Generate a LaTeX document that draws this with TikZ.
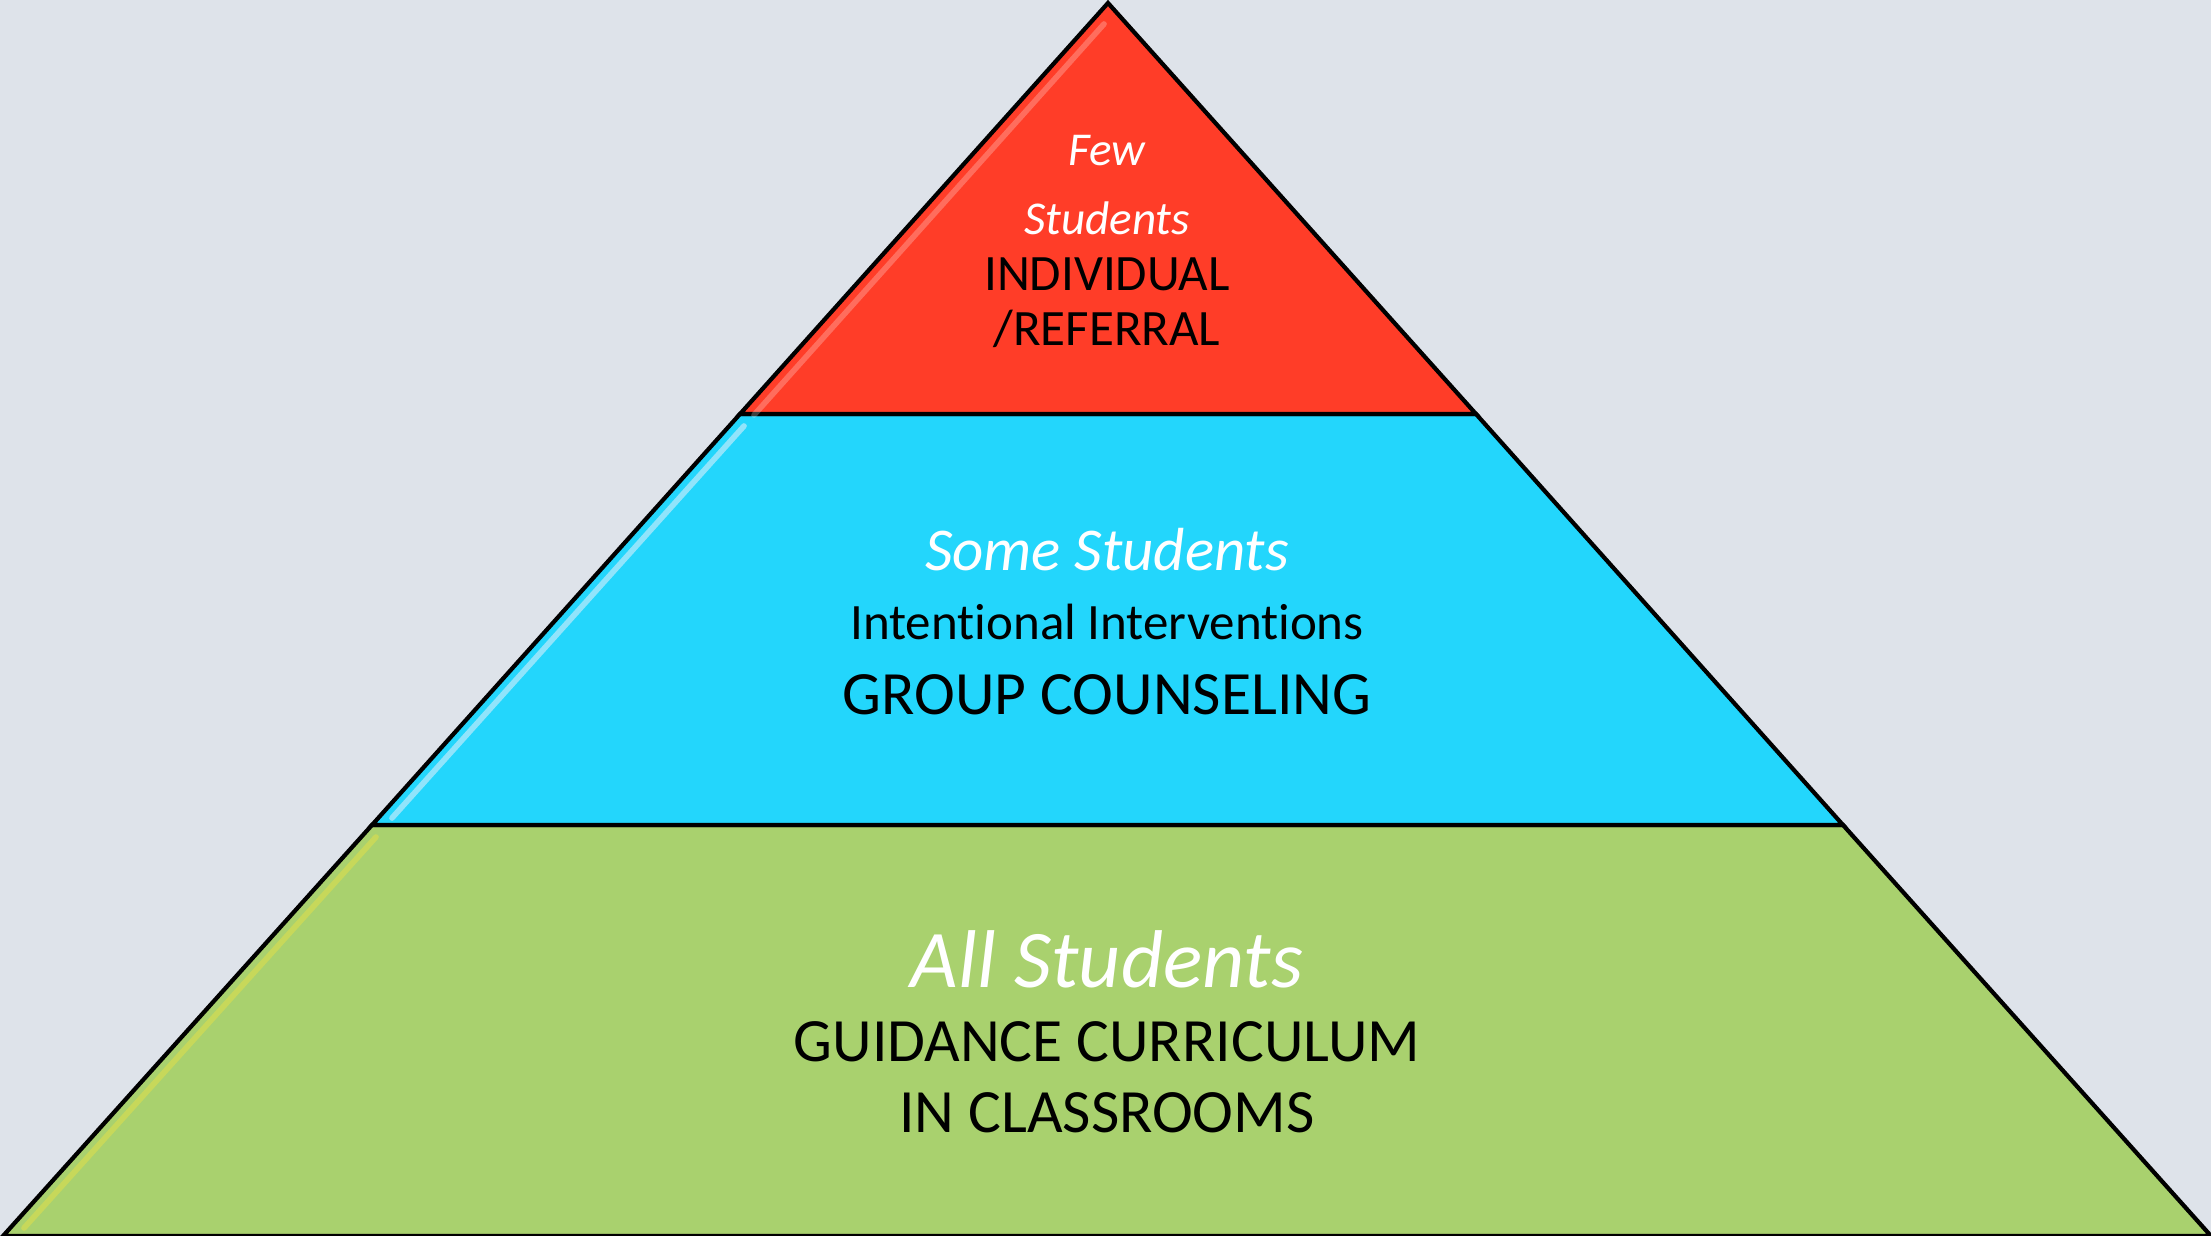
\documentclass[tikz,border=0pt]{standalone}
\usepackage{fontspec}
\setmainfont{Carlito}[RawFeature={-liga;-clig;-dlig;-calt}]
\definecolor{bgcol}{RGB}{222,227,234}
\definecolor{fewcol}{RGB}{255,61,40}
\definecolor{somecol}{RGB}{35,214,252}
\definecolor{allcol}{RGB}{169,209,110}
\tikzset{
  band/.style={draw=black, line width=1.2pt, line join=miter},
  shine/.style={line width=1.6pt, line cap=round, draw opacity=0.7},
  who/.style={text=white, font=\itshape},
}
\begin{document}
\begin{tikzpicture}[x=0.01cm, y=-0.01cm]
\fill[bgcol] (0,0) rectangle (2211,1236);
\useasboundingbox (0,0) rectangle (2211,1236);
\coordinate (tip) at (1108,3);
\coordinate (lvl1l) at (740,414);
\coordinate (lvl1r) at (1476,414);
\coordinate (lvl2l) at (372,825);
\coordinate (lvl2r) at (1843,825);
\coordinate (lvl3l) at (3,1236);
\coordinate (lvl3r) at (2211,1236);
\filldraw[band, fill=allcol] (lvl2l) -- (lvl2r) -- (lvl3r) -- (lvl3l) -- cycle;
\filldraw[band, fill=somecol] (lvl1l) -- (lvl1r) -- (lvl2r) -- (lvl2l) -- cycle;
\filldraw[band, fill=fewcol] (tip) -- (lvl1r) -- (lvl1l) -- cycle;
\draw[shine, draw=white, draw opacity=0.25] (1104,24) -- (754,415);
\draw[shine, draw=cyan!25!white] (744,426) -- (392,818);
\draw[shine, draw=yellow!45!allcol] (376,837) -- (24,1228);
\node[who, font=\itshape\fontsize{13.4}{16}\selectfont] (few0) at (1107,151) {Few};
\node[who, font=\itshape\fontsize{13.4}{16}\selectfont] (few1) at (1107,218) {Students};
\node[font=\fontsize{14.5}{17}\selectfont] (few2) at (1107,274) {INDIVIDUAL};
\node[font=\fontsize{14.5}{17}\selectfont] (few3) at (1107,329) {/REFERRAL};
\node[who, font=\itshape\fontsize{17.3}{20}\selectfont] (some0) at (1107,550) {Some Students};
\node[font=\fontsize{14.5}{17}\selectfont] (some1) at (1107,622) {Intentional Interventions};
\node[font=\fontsize{17.5}{20}\selectfont] (some2) at (1107,695) {GROUP COUNSELING};
\node[who, font=\itshape\fontsize{23.3}{27}\selectfont] (all0) at (1107,959) {All Students};
\node[font=\fontsize{17.5}{20}\selectfont] (all1) at (1107,1042) {GUIDANCE CURRICULUM};
\node[font=\fontsize{17.5}{20}\selectfont] (all2) at (1107,1113) {IN CLASSROOMS};
\end{tikzpicture}
\end{document}
